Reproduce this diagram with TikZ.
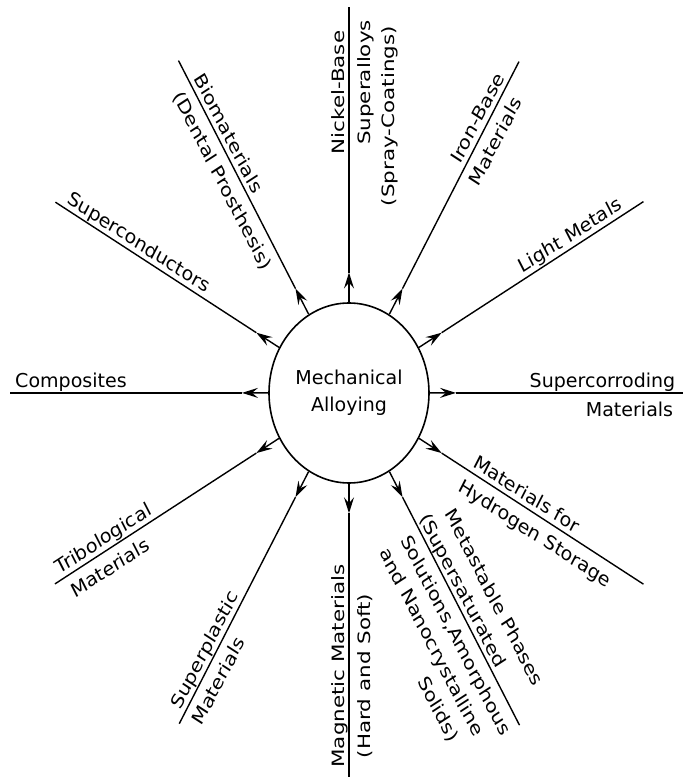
\documentclass[tikz,border=0pt]{standalone}
\usepackage{fontspec}
\setmainfont{DejaVu Sans}[FakeStretch=1.12]
\usetikzlibrary{calc,arrows.meta}
\newcommand\spokelabel[6]{\node[lbl,rotate=#3] (#1) at ($(ma.center)+(#2:#4)+(#3+90:#5)$) {#6};}
\begin{document}
\begin{tikzpicture}[x=1pt,y=1pt,yscale=1.125,
  lbl/.style={font=\fontsize{17}{24}\selectfont, anchor=base, inner sep=0pt, transform shape},
  hub/.style={circle, draw, line width=1.6pt, minimum size=160pt, inner sep=0pt, align=center,
              font=\fontsize{17}{24}\selectfont, transform shape},
  spoke/.style={line width=1.4pt, -{Stealth[length=16pt,width=10pt,inset=6pt]}},
  ray/.style={line width=1.4pt}]
\useasboundingbox (0,0) rectangle (683,693.333);

\node[hub] (ma) at (349,344) {Mechanical\\Alloying};

\foreach \n/\ang/\len in {0/0/334, 30/30/340, 60/60/340, 90/90/343, 120/120/341, 150/150/339,
    180/180/339, 210/-150/339.6, 240/-120/339.5, 270/-90/341, 300/-60/341, 330/-30/340}{
  \coordinate (a\n) at ($(ma.center)+(\ang:107)$);
  \coordinate (e\n) at ($(ma.center)+(\ang:\len)$);
  \draw[spoke] (ma) -- (a\n);
  \draw[ray] (a\n) -- (e\n);
}

\spokelabel{nickA}{90}{90}{267}{5}{Nickel-Base}
\spokelabel{nickB}{90}{90}{276}{-21}{Superalloys}
\spokelabel{nickC}{90}{90}{246}{-45}{(Spray-Coatings)}
\spokelabel{ironA}{60}{60}{276}{5}{Iron-Base}
\spokelabel{ironB}{60}{60}{267}{-21}{Materials}
\spokelabel{light}{30}{30}{261.5}{5}{Light Metals}
\spokelabel{corrA}{0}{0}{253.5}{5}{Supercorroding}
\spokelabel{corrB}{0}{0}{280.5}{-21}{Materials}
\spokelabel{hydA}{-30}{-30}{199}{5}{Materials for}
\spokelabel{hydB}{-30}{-30}{223.6}{-21}{Hydrogen Storage}
\spokelabel{metaA}{-60}{-60}{230}{29}{Metastable Phases}
\spokelabel{metaB}{-60}{-60}{209}{5}{(Supersaturated}
\spokelabel{metaC}{-60}{-60}{240}{-21}{Solutions,Amorphous}
\spokelabel{metaD}{-60}{-60}{233}{-45}{and Nanocrystalline}
\spokelabel{metaE}{-60}{-60}{288}{-69}{Solids)}
\spokelabel{magA}{-90}{90}{242.7}{5}{Magnetic Materials}
\spokelabel{magB}{-90}{90}{251.6}{-21}{(Hard and Soft)}
\spokelabel{splA}{-120}{60}{270}{5}{Superplastic}
\spokelabel{splB}{-120}{60}{287}{-21}{Materials}
\spokelabel{triA}{-150}{30}{277.5}{5}{Tribological}
\spokelabel{triB}{-150}{30}{284.6}{-21}{Materials}
\spokelabel{comp}{180}{0}{278}{5}{Composites}
\spokelabel{scond}{150}{-30}{249}{5}{Superconductors}
\spokelabel{bioA}{120}{-60}{260}{5}{Biomaterials}
\spokelabel{bioB}{120}{-60}{226.5}{-21}{(Dental Prosthesis)}
\end{tikzpicture}
\end{document}
